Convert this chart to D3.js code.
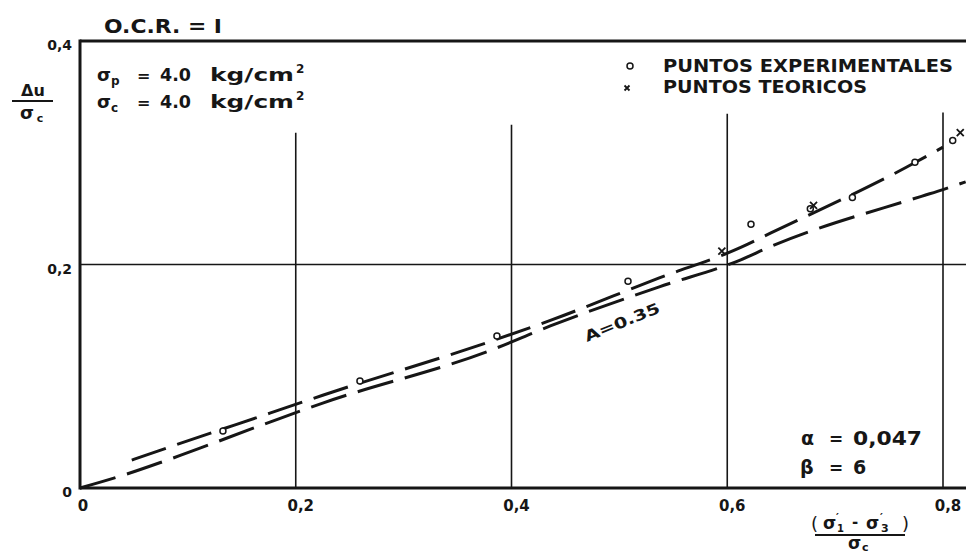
<!DOCTYPE html>
<html><head><meta charset="utf-8">
<script src="https://cdn.jsdelivr.net/npm/d3@7"></script>
<style>
html,body{margin:0;padding:0;background:#fff;}
svg text{font-family:"DejaVu Sans",sans-serif;fill:#161616;}
</style></head>
<body><svg id="c" width="966" height="554"></svg>
<script>
// ---- data ----
const xTicks = [0, 0.2, 0.4, 0.6, 0.8];
const xTickLabels = ["0", "0,2", "0,4", "0,6", "0,8"];
const yTicks = [0, 0.2, 0.4];
const yTickLabels = ["0", "0,2", "0,4"];
const vGridX = [0.2, 0.4, 0.6, 0.8];
const vGridTop = [0.318, 0.325, 0.335, 0.336];

const expX = [0.1325, 0.2595, 0.3865, 0.508, 0.622, 0.677, 0.716, 0.774, 0.809];
const expY = [0.051, 0.0957, 0.136, 0.185, 0.236, 0.250, 0.260, 0.2916, 0.311];
const teoX = [0.595, 0.680, 0.816];
const teoY = [0.212, 0.253, 0.318];

const fitX = [0.048, 0.081, 0.176, 0.225, 0.38, 0.436, 0.537, 0.612, 0.64, 0.766, 0.80];
const fitY = [0.025, 0.036, 0.067, 0.083, 0.131, 0.150, 0.188, 0.215, 0.228, 0.287, 0.305];
const theoLineX = [0, 0.0435, 0.081, 0.176, 0.225, 0.38, 0.436, 0.537, 0.612, 0.64, 0.78, 0.80, 0.821];
const theoLineY = [0, 0.0125, 0.025, 0.059, 0.076, 0.123, 0.145, 0.180, 0.204, 0.216, 0.261, 0.267, 0.274];

// ---- scales ----
const svg = d3.select("#c");
const x = d3.scaleLinear().domain([0, 0.8]).range([80, 943]);
const y = d3.scaleLinear().domain([0, 0.4]).range([488, 41]);
const xEnd = x.invert(966);
const ink = "#161616";

function T(px, py, size, txt, weight) {
  return svg.append("text").attr("x", px).attr("y", py).attr("font-size", size)
    .style("font-weight", weight || "bold").text(txt);
}

// grid
vGridX.forEach((v, i) => {
  svg.append("line").attr("x1", x(v)).attr("x2", x(v))
    .attr("y1", y(0)).attr("y2", y(vGridTop[i]))
    .attr("stroke", ink).attr("stroke-width", 1.6);
});
svg.append("line").attr("x1", x(0)).attr("x2", x(xEnd))
  .attr("y1", y(0.2)).attr("y2", y(0.2)).attr("stroke", ink).attr("stroke-width", 1.6);

// frame
svg.append("line").attr("x1", x(0)).attr("x2", x(xEnd)).attr("y1", y(0.4)).attr("y2", y(0.4))
  .attr("stroke", ink).attr("stroke-width", 3);
svg.append("line").attr("x1", x(0)).attr("x2", x(xEnd)).attr("y1", y(0)).attr("y2", y(0))
  .attr("stroke", ink).attr("stroke-width", 3);
svg.append("line").attr("x1", x(0)).attr("x2", x(0)).attr("y1", y(0) + 1.5).attr("y2", y(0.4) - 1.5)
  .attr("stroke", ink).attr("stroke-width", 3);

// tick labels
xTicks.forEach((t, i) => {
  T(x(t) + (i === 0 ? 3 : 5), 511, 15, xTickLabels[i]).attr("text-anchor", "middle");
});
yTicks.forEach((t, i) => {
  T(72, y(t) + 9, 14, yTickLabels[i]).attr("text-anchor", "end");
});

// lines
const line = d3.line().x(d => x(d[0])).y(d => y(d[1])).curve(d3.curveMonotoneX);
svg.append("path").attr("d", line(theoLineX.map((v, i) => [v, theoLineY[i]])))
  .attr("fill", "none").attr("stroke", ink).attr("stroke-width", 3)
  .attr("stroke-dasharray", "37 12");
svg.append("path").attr("d", line(fitX.map((v, i) => [v, fitY[i]])))
  .attr("fill", "none").attr("stroke", ink).attr("stroke-width", 3)
  .attr("stroke-dasharray", "36 12");

// experimental points
expX.forEach((v, i) => {
  svg.append("circle").attr("cx", x(v)).attr("cy", y(expY[i])).attr("r", 3)
    .attr("fill", "#fff").attr("stroke", ink).attr("stroke-width", 1.5);
});
// theoretical points
function cross(cx, cy, s) {
  svg.append("path").attr("d", `M${cx - s},${cy - s}L${cx + s},${cy + s}M${cx - s},${cy + s}L${cx + s},${cy - s}`)
    .attr("stroke", ink).attr("stroke-width", 1.8).attr("fill", "none");
}
teoX.forEach((v, i) => cross(x(v), y(teoY[i]), 3.5));

// title
T(104, 33, 20, "O.C.R. = I", "600")
  .attr("textLength", 118).attr("lengthAdjust", "spacingAndGlyphs");

// y label
T(33, 96, 16, "Δu").attr("text-anchor", "middle");
svg.append("line").attr("x1", 12).attr("x2", 53).attr("y1", 101).attr("y2", 101).attr("stroke", ink).attr("stroke-width", 2.2);
T(27, 119, 18, "σ").attr("text-anchor", "middle");
T(40, 122, 11, "c").attr("text-anchor", "middle");

// parameters
function param(base, sub) {
  T(97, base, 18, "σ");
  T(111, base + 4, 12, sub);
  T(137, base, 16, "=");
  T(160, base, 17, "4.0").attr("textLength", 31).attr("lengthAdjust", "spacingAndGlyphs");
  T(210, base, 17, "kg/cm").attr("textLength", 84).attr("lengthAdjust", "spacingAndGlyphs");
  T(296, base - 8, 12, "2");
}
param(81, "p");
param(108, "c");

// legend
svg.append("circle").attr("cx", 630).attr("cy", 66).attr("r", 3).attr("fill", "#fff")
  .attr("stroke", ink).attr("stroke-width", 1.5);
T(663, 72, 17, "PUNTOS  EXPERIMENTALES").attr("textLength", 290).attr("lengthAdjust", "spacingAndGlyphs");
cross(627, 88, 2.5);
T(663, 93, 17, "PUNTOS  TEORICOS").attr("textLength", 204).attr("lengthAdjust", "spacingAndGlyphs");

// alpha / beta
T(801, 445, 19, "α");
T(829, 445, 17, "=");
T(853, 445, 19, "0,047").attr("textLength", 69).attr("lengthAdjust", "spacingAndGlyphs");
T(800, 474, 19, "β");
T(829, 474, 17, "=");
T(853, 474, 19, "6");

// A = 0.35 label
svg.append("text").attr("transform", "translate(624,327) rotate(-22)")
  .attr("text-anchor", "middle").attr("font-size", 15).style("font-weight", "900")
  .attr("textLength", 80).attr("lengthAdjust", "spacingAndGlyphs").text("A=0.35");

// x axis label
T(811, 530, 18, "(", "normal");
T(823, 529, 17, "σ");
T(836, 521, 11, "′");
T(837, 532, 10, "1");
T(852, 527, 15, "-");
T(866, 529, 17, "σ");
T(880, 521, 11, "′");
T(881, 532, 11, "3");
T(902, 530, 18, ")", "normal");
svg.append("line").attr("x1", 815).attr("x2", 905).attr("y1", 535).attr("y2", 535).attr("stroke", ink).attr("stroke-width", 2);
T(848, 549, 17, "σ");
T(862, 551, 11, "c");
</script></body></html>
